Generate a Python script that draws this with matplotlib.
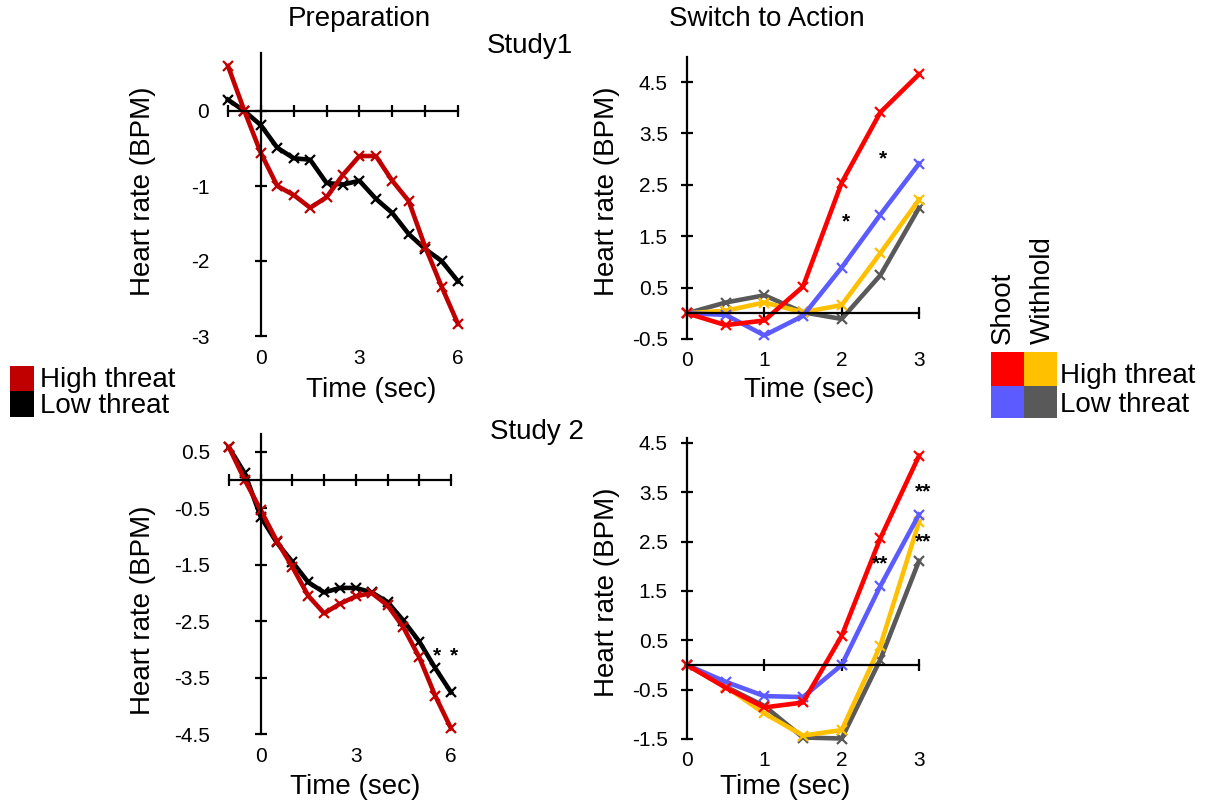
import matplotlib
matplotlib.use("Agg")
import matplotlib.pyplot as plt
from matplotlib.patches import Rectangle

plt.rcParams['font.family'] = ['Liberation Sans', 'DejaVu Sans']

W, H = 1210, 807

# ---------------- data ----------------
t_prep = [-1, -0.5, 0, 0.5, 1, 1.5, 2, 2.5, 3, 3.5, 4, 4.5, 5, 5.5, 6]
t_switch = [0, 0.5, 1, 1.5, 2, 2.5, 3]

s1_prep_high = [0.6, 0.0, -0.56, -1.0, -1.12, -1.29, -1.15, -0.85, -0.6, -0.6, -0.93, -1.2, -1.81, -2.34, -2.84]
s1_prep_low = [0.15, 0.0, -0.19, -0.49, -0.63, -0.65, -0.96, -0.98, -0.93, -1.17, -1.36, -1.64, -1.84, -2.0, -2.27]

s2_prep_high = [0.58, 0.0, -0.53, -1.07, -1.54, -2.05, -2.36, -2.19, -2.06, -2.0, -2.22, -2.61, -3.14, -3.82, -4.40]
s2_prep_low = [0.58, 0.12, -0.65, -1.1, -1.45, -1.81, -1.99, -1.91, -1.91, -1.99, -2.16, -2.49, -2.86, -3.33, -3.76]

s1_shoot_high = [0, -0.23, -0.14, 0.52, 2.54, 3.91, 4.65]
s1_shoot_low = [0, -0.03, -0.43, -0.05, 0.89, 1.92, 2.91]
s1_withhold_high = [0, 0.05, 0.21, 0.02, 0.16, 1.17, 2.21]
s1_withhold_low = [0, 0.21, 0.35, 0.02, -0.11, 0.74, 2.05]

s2_shoot_high = [0, -0.46, -0.86, -0.76, 0.59, 2.57, 4.24]
s2_shoot_low = [0, -0.34, -0.63, -0.65, 0.0, 1.6, 3.05]
s2_withhold_high = [0, -0.44, -0.98, -1.43, -1.32, 0.39, 2.9]
s2_withhold_low = [0, -0.44, -0.83, -1.47, -1.49, 0.11, 2.11]

prep_ticks = [-1, 0, 1, 2, 3, 4, 5, 6]
prep_labels = ['0', '3', '6']
switch_ticks = [0, 1, 2, 3]
switch_labels = ['0', '1', '2', '3']
s1_prep_yticks = ['0', '-1', '-2', '-3']
s2_prep_yticks = ['0.5', '-0.5', '-1.5', '-2.5', '-3.5', '-4.5']
s1_switch_yticks = ['4.5', '3.5', '2.5', '1.5', '0.5', '-0.5']
s2_switch_yticks = ['4.5', '3.5', '2.5', '1.5', '0.5', '-0.5', '-1.5']

# significance stars: (x, y, text)
s1_switch_stars = [(2.53, 3.0, '*'), (2.06, 1.78, '*')]
s2_prep_stars = [(5.55, -3.12, '*'), (6.1, -3.12, '*')]
s2_switch_stars = [(2.5, 2.05, '**'), (3.05, 3.5, '**'), (3.05, 2.5, '**')]

# colours
C_PREP_HIGH = '#C00000'
C_PREP_LOW = '#000000'
C_SH = '#FF0000'
C_SL = '#5B5BFF'
C_WH = '#FFC000'
C_WL = '#595959'

fig = plt.figure(figsize=(W / 100, H / 100), dpi=100)


def axes_rect(xv, xp, yv, yp, xlim, ylim):
    sx = (xp[1] - xp[0]) / (xv[1] - xv[0])
    sy = (yp[1] - yp[0]) / (yv[1] - yv[0])
    l = xp[0] + (xlim[0] - xv[0]) * sx
    r = xp[0] + (xlim[1] - xv[0]) * sx
    top = yp[0] + (ylim[1] - yv[0]) * sy
    bot = yp[0] + (ylim[0] - yv[0]) * sy
    return [l / W, 1 - bot / H, (r - l) / W, (bot - top) / H]


def panel(rect, xlim, ylim, xticks, xlabticks, xlabels, ylabels, ybounds, xbounds,
          ypad, xpad, ylab_px, xlab_px):
    ax = fig.add_axes(rect)
    ax.set_xlim(*xlim)
    ax.set_ylim(*ylim)
    ax.patch.set_alpha(0)
    for s in ['top', 'right']:
        ax.spines[s].set_visible(False)
    ax.spines['left'].set_position(('data', 0))
    ax.spines['bottom'].set_position(('data', 0))
    ax.spines['left'].set_bounds(*ybounds)
    ax.spines['bottom'].set_bounds(*xbounds)
    for s in ['left', 'bottom']:
        ax.spines[s].set_linewidth(1.6)
    yt = [float(v) for v in ylabels]
    ax.set_xticks(xticks)
    ax.set_yticks(yt)
    ax.tick_params(direction='inout', length=9, width=1.6,
                   labelbottom=False, labelleft=False)
    sy = ax.secondary_yaxis('left')
    sy.set_ticks(yt, labels=ylabels)
    sy.spines['left'].set_visible(False)
    sy.tick_params(length=0, pad=ypad, labelsize=15)
    sy.set_ylabel('Heart rate (BPM)', fontsize=20, va='center', ha='center')
    sy.yaxis.set_label_coords(ylab_px[0] / W, 1 - ylab_px[1] / H, transform=fig.transFigure)
    sx = ax.secondary_xaxis('bottom')
    sx.set_ticks([float(v) for v in xlabticks], labels=xlabels)
    sx.spines['bottom'].set_visible(False)
    sx.tick_params(length=0, pad=xpad, labelsize=15)
    sx.set_xlabel('Time (sec)', fontsize=20, va='center', ha='center')
    sx.xaxis.set_label_coords(xlab_px[0] / W, 1 - xlab_px[1] / H, transform=fig.transFigure)
    return ax


def line(ax, x, y, c):
    ax.plot(x, y, color=c, lw=3.3, marker='x', ms=7.5, mew=1.6, clip_on=False,
            solid_joinstyle='round')


def stars(ax, items):
    for x, y, s in items:
        ax.text(x, y, s, fontsize=15, fontweight='bold', ha='center', va='center')


# ---- Study 1, Preparation ----
xl, yl = (-1.15, 6.2), (-3.0, 0.8)
ax1 = panel(axes_rect((-1, 6), (228, 458), (0, -3), (111, 336), xl, yl), xl, yl,
            prep_ticks, prep_labels, prep_labels, s1_prep_yticks, (-3, 0.77), (-1, 6),
            10, 9, (143, 191), (371, 390))
line(ax1, t_prep, s1_prep_low, C_PREP_LOW)
line(ax1, t_prep, s1_prep_high, C_PREP_HIGH)

# ---- Study 1, Switch to Action ----
xl, yl = (-0.05, 3.1), (-0.5, 5.0)
ax2 = panel(axes_rect((0, 3), (687, 919), (4.5, -0.5), (82, 339), xl, yl), xl, yl,
            switch_ticks, switch_labels, switch_labels, s1_switch_yticks, (-0.5, 4.98), (0, 3),
            11, 9, (607, 191), (809, 390))
line(ax2, t_switch, s1_withhold_low, C_WL)
line(ax2, t_switch, s1_withhold_high, C_WH)
line(ax2, t_switch, s1_shoot_low, C_SL)
line(ax2, t_switch, s1_shoot_high, C_SH)
stars(ax2, s1_switch_stars)

# ---- Study 2, Preparation ----
xl, yl = (-1.15, 6.2), (-4.5, 0.85)
ax3 = panel(axes_rect((-1, 6), (229, 451), (0.5, -4.5), (452, 734), xl, yl), xl, yl,
            prep_ticks, prep_labels, prep_labels, s2_prep_yticks, (-4.5, 0.82), (-1, 6),
            10, 9, (143, 610), (355, 787))
line(ax3, t_prep, s2_prep_low, C_PREP_LOW)
line(ax3, t_prep, s2_prep_high, C_PREP_HIGH)
stars(ax3, s2_prep_stars)

# ---- Study 2, Switch to Action ----
xl, yl = (-0.05, 3.1), (-1.5, 4.6)
ax4 = panel(axes_rect((0, 3), (687, 919), (4.5, -1.5), (443, 739), xl, yl), xl, yl,
            switch_ticks, switch_labels, switch_labels, s2_switch_yticks, (-1.5, 4.6), (0, 3),
            11, 9, (607, 592), (785, 787))
line(ax4, t_switch, s2_withhold_low, C_WL)
line(ax4, t_switch, s2_withhold_high, C_WH)
line(ax4, t_switch, s2_shoot_low, C_SL)
line(ax4, t_switch, s2_shoot_high, C_SH)
stars(ax4, s2_switch_stars)

# ---- titles ----
def ftext(x, y, s, **kw):
    fig.text(x / W, 1 - y / H, s, **kw)

ftext(359, 19, 'Preparation', fontsize=20, ha='center', va='center')
ftext(767, 19, 'Switch to Action', fontsize=20, ha='center', va='center')
ftext(530, 46, 'Study1', fontsize=20, ha='center', va='center')
ftext(537, 432, 'Study 2', fontsize=20, ha='center', va='center')

# ---- legends ----
def box(x0, y0, x1, y1, c):
    fig.add_artist(Rectangle((x0 / W, 1 - y1 / H), (x1 - x0) / W, (y1 - y0) / H,
                             transform=fig.transFigure, color=c, lw=0))

box(10, 366, 34, 391, C_PREP_HIGH)
box(10, 391, 34, 417, C_PREP_LOW)
ftext(40, 380, 'High threat', fontsize=20, ha='left', va='center')
ftext(40, 406, 'Low threat', fontsize=20, ha='left', va='center')

box(991, 352, 1024, 386, C_SH)
box(1024, 352, 1057, 386, C_WH)
box(991, 386, 1024, 418, C_SL)
box(1024, 386, 1057, 418, C_WL)
ftext(1060, 376, 'High threat', fontsize=20, ha='left', va='center')
ftext(1060, 405, 'Low threat', fontsize=20, ha='left', va='center')
ftext(1003, 344, 'Shoot', fontsize=20, rotation=90, ha='center', va='bottom')
ftext(1043, 344, 'Withhold', fontsize=20, rotation=90, ha='center', va='bottom')

fig.savefig('out.png', dpi=100)
